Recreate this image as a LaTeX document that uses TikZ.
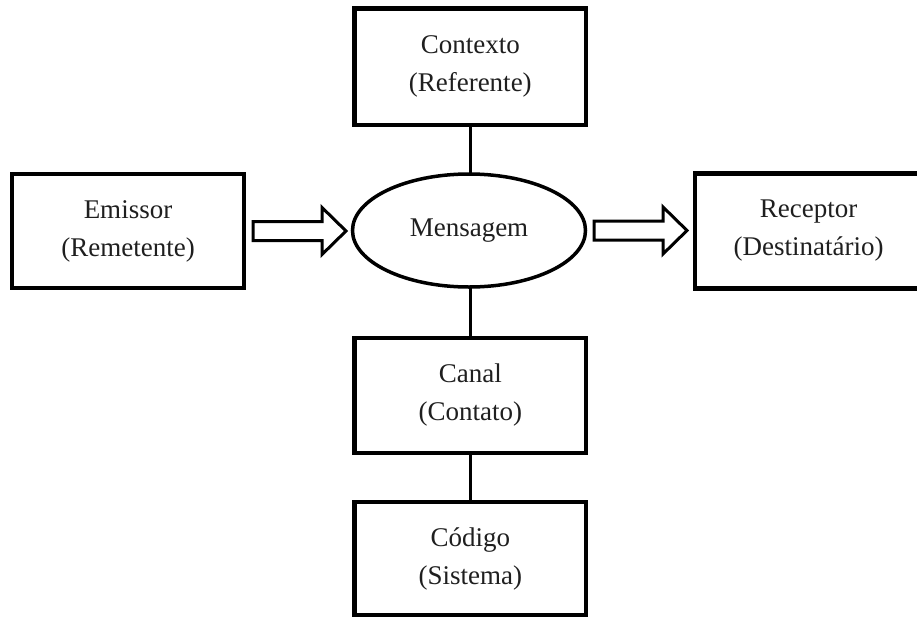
\documentclass[tikz,border=0pt]{standalone}
\usepackage{fontspec}
\setmainfont{Liberation Serif}
\usetikzlibrary{shapes.geometric,calc}

\newcommand\lbl{\fontsize{27}{38}\selectfont}

\tikzset{
  box/.style={draw, line width=4.5pt, rectangle, inner sep=0pt, outer sep=0pt,
              align=center, font=\lbl, text=black!88},
  msg/.style={draw, line width=3.5pt, ellipse, inner sep=0pt, outer sep=0pt,
              minimum width=233pt, minimum height=113pt, font=\lbl, text=black!88},
  link/.style={line width=3.5pt},
  fat/.style={draw, line width=3pt, line join=miter, fill=white},
}

\begin{document}
\begin{tikzpicture}[x=1pt,y=-1pt]
  \fill[white] (0,0) rectangle (917,618);
  \useasboundingbox (0,0) rectangle (917,618);

  % central message and the six functions around it
  \node[msg] (msg) at (469,230.5) {Mensagem};

  \node[box, minimum width=231.5pt, minimum height=116.5pt] (ctx)   at (470.25,66.75)  {Contexto\\(Referente)};
  \node[box, minimum width=232pt,   minimum height=114pt]   (emi)   at (128,231)       {Emissor\\(Remetente)};
  \node[box, minimum width=227pt,   minimum height=115pt]   (rec)   at (808.5,231)     {Receptor\\(Destinatário)};
  \node[box, minimum width=231.5pt, minimum height=115pt]   (canal) at (470.25,395.5)  {Canal\\(Contato)};
  \node[box, minimum width=231.5pt, minimum height=113pt]   (cod)   at (470.25,558.5)  {Código\\(Sistema)};

  % vertical links
  \draw[link] (ctx.south) -- (ctx.south |- msg.north);
  \draw[link] (canal.north |- msg.south) -- (canal.north);
  \draw[link] (canal.south) -- (cod.north);

  % hollow block arrows
  \draw[fat] ($(emi.east)+(9,-9.5)$) -- ++(69,0) -- ++(0,-14) -- ++(24,23.5)
             -- ++(-24,23.5) -- ++(0,-14) -- ++(-69,0) -- cycle;
  \draw[fat] ($(msg.east)+(8.5,-9.5)$) -- ++(69,0) -- ++(0,-14) -- ++(24,23.5)
             -- ++(-24,23.5) -- ++(0,-14) -- ++(-69,0) -- cycle;
\end{tikzpicture}
\end{document}
